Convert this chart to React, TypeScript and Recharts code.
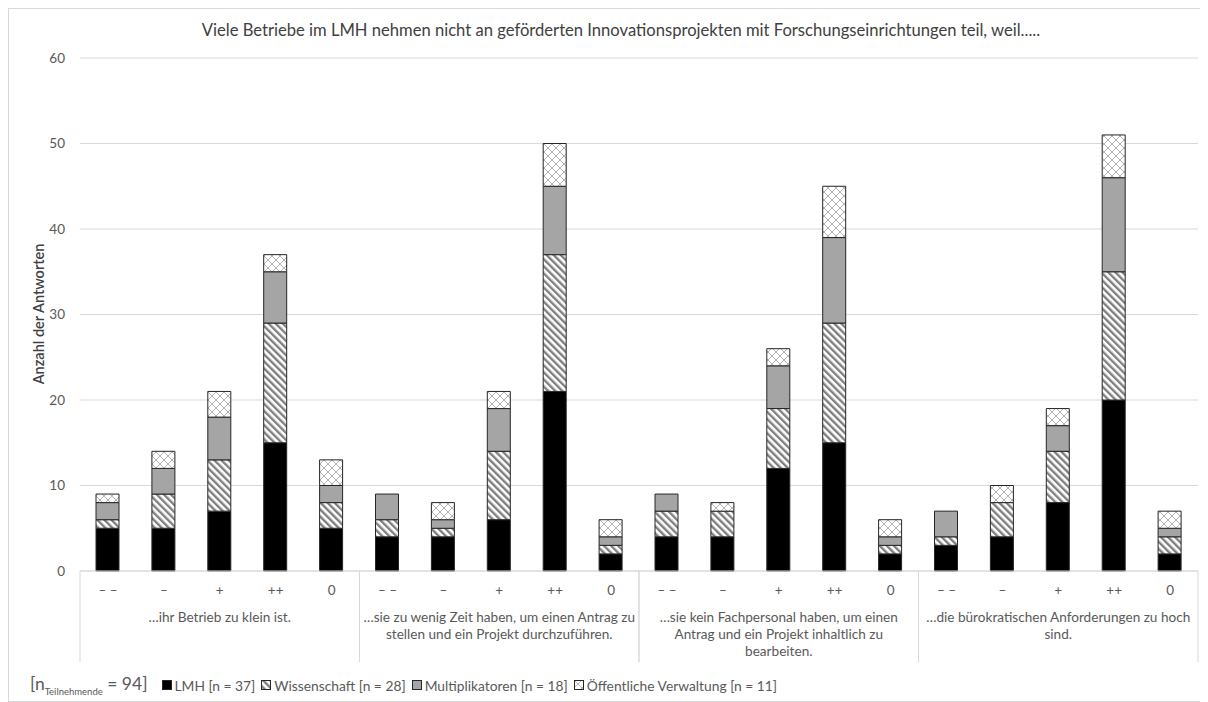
import React from 'react';
import { BarChart, Bar, XAxis, YAxis, CartesianGrid, Legend } from 'recharts';

const groups = [
  '…ihr Betrieb zu klein ist.',
  '…sie zu wenig Zeit haben, um einen Antrag zu\nstellen und ein Projekt durchzuführen.',
  '…sie kein Fachpersonal haben, um einen\nAntrag und ein Projekt inhaltlich zu\nbearbeiten.',
  '…die bürokratischen Anforderungen zu hoch\nsind.',
];
const answers = ['– –', '–', '+', '++', '0'];

// five answers per group, groups in the order above
const lmh = [5, 5, 7, 15, 5, 4, 4, 6, 21, 2, 4, 4, 12, 15, 2, 3, 4, 8, 20, 2];
const wissenschaft = [1, 4, 6, 14, 3, 2, 1, 8, 16, 1, 3, 3, 7, 14, 1, 1, 4, 6, 15, 2];
const multiplikatoren = [2, 3, 5, 6, 2, 3, 1, 5, 8, 1, 2, 0, 5, 10, 1, 3, 0, 3, 11, 1];
const verwaltung = [1, 2, 3, 2, 3, 0, 2, 2, 5, 2, 0, 1, 2, 6, 2, 0, 2, 2, 5, 2];

const yTicks = [0, 10, 20, 30, 40, 50, 60];

const series = [
  { key: 'lmh', name: 'LMH [n = 37]', fill: '#000000' },
  { key: 'wissenschaft', name: 'Wissenschaft [n = 28]', fill: 'url(#hatch)' },
  { key: 'multiplikatoren', name: 'Multiplikatoren [n = 18]', fill: '#a5a5a5' },
  { key: 'verwaltung', name: 'Öffentliche Verwaltung [n = 11]', fill: 'url(#cross)' },
];

const data = groups.flatMap((group, gi) =>
  answers.map((answer, ai) => {
    const i = gi * answers.length + ai;
    return {
      id: `${gi}-${ai}`,
      answer,
      group,
      lmh: lmh[i],
      wissenschaft: wissenschaft[i],
      multiplikatoren: multiplikatoren[i],
      verwaltung: verwaltung[i],
    };
  })
);

const W = 1200;
const H = 694;
const MARGIN = { top: 50, right: 10, left: 0, bottom: 5 };
const Y_WIDTH = 72;
const plotWidth = W - MARGIN.left - MARGIN.right - Y_WIDTH;
const groupHalf = plotWidth / groups.length / 2;

const textColor = '#595959';
const gridColor = '#d9d9d9';

const AnswerTick = (props: any) => {
  const { x, y, index } = props;
  return (
    <text x={x} y={y + 24} textAnchor="middle" fontSize={13.5} fill={textColor}>
      {data[index]?.answer}
    </text>
  );
};

// group captions under the answer ticks, with separators between groups
const GroupTick = (props: any) => {
  const { x, y, payload } = props;
  const lines = String(payload.value).split('\n');
  return (
    <g>
      <line x1={x - groupHalf} x2={x - groupHalf} y1={y - 32} y2={y + 59} stroke={gridColor} />
      <line x1={x + groupHalf} x2={x + groupHalf} y1={y - 32} y2={y + 59} stroke={gridColor} />
      <text textAnchor="middle" fontSize={13.6} fill={textColor}>
        {lines.map((l, i) => (
          <tspan key={i} x={x} y={y + 18.5 + i * 17}>
            {l}
          </tspan>
        ))}
      </text>
    </g>
  );
};

const LegendRow = () => (
  <div style={{ display: 'flex', alignItems: 'center', height: 24, fontSize: 13.8, color: textColor, whiteSpace: 'nowrap' }}>
    <span style={{ fontSize: 17.5, marginRight: 14 }}>
      [n<sub style={{ fontSize: 9.5 }}>Teilnehmende</sub> = 94]
    </span>
    {series.map((s) => (
      <span key={s.key} style={{ display: 'inline-flex', alignItems: 'center', marginRight: 6 }}>
        <svg width={10} height={10} style={{ marginRight: 3 }}>
          <rect x={0.5} y={0.5} width={9} height={9} fill={s.fill} stroke="#262626" />
        </svg>
        {s.name}
      </span>
    ))}
  </div>
);

export default function App() {
  return (
    <div style={{ width: W, height: H, outline: `1px solid ${gridColor}`, outlineOffset: -1, fontFamily: 'Lato, sans-serif' }}>
      <BarChart width={W} height={H} data={data} margin={MARGIN} barSize={23}>
        <defs>
          <pattern id="hatch" patternUnits="userSpaceOnUse" width={5} height={5} patternTransform="rotate(-45)">
            <rect width={5} height={5} fill="#ffffff" />
            <rect width={2.4} height={5} fill="#7f7f7f" />
          </pattern>
          <pattern id="cross" patternUnits="userSpaceOnUse" width={8} height={8}>
            <rect width={8} height={8} fill="#ffffff" />
            <path d="M0,0 L8,8 M8,0 L0,8" stroke="#b3b3b3" strokeWidth={1} />
          </pattern>
        </defs>
        <text x={613} y={28} textAnchor="middle" fontSize={16.6} fill="#404040">
          Viele Betriebe im LMH nehmen nicht an geförderten Innovationsprojekten mit Forschungseinrichtungen teil, weil.....
        </text>
        <text
          x={30}
          y={306}
          transform="rotate(-90 30 306)"
          textAnchor="middle"
          dominantBaseline="central"
          fontSize={14.5}
          fontWeight={600}
          fill="#404040"
        >
          Anzahl der Antworten
        </text>
        <CartesianGrid vertical={false} stroke={gridColor} />
        <XAxis
          dataKey="id"
          interval={0}
          height={32}
          tickSize={0}
          tickMargin={0}
          tickLine={false}
          axisLine={{ stroke: gridColor }}
          tick={<AnswerTick />}
        />
        <XAxis
          xAxisId="grp"
          dataKey="group"
          allowDuplicatedCategory={false}
          interval={0}
          height={70}
          tickSize={0}
          tickMargin={0}
          tickLine={false}
          axisLine={false}
          tick={<GroupTick />}
        />
        <YAxis
          width={Y_WIDTH}
          domain={[0, 60]}
          ticks={yTicks}
          interval={0}
          tickSize={0}
          tickMargin={15}
          tickLine={false}
          axisLine={false}
          tick={{ fontSize: 13.5, fill: textColor }}
        />
        <Legend verticalAlign="bottom" align="left" height={24} wrapperStyle={{ left: 22 }} content={() => <LegendRow />} />
        {series.map((s) => (
          <Bar
            key={s.key}
            dataKey={s.key}
            name={s.name}
            stackId="a"
            fill={s.fill}
            stroke="#262626"
            strokeWidth={1}
            isAnimationActive={false}
          />
        ))}
      </BarChart>
    </div>
  );
}
